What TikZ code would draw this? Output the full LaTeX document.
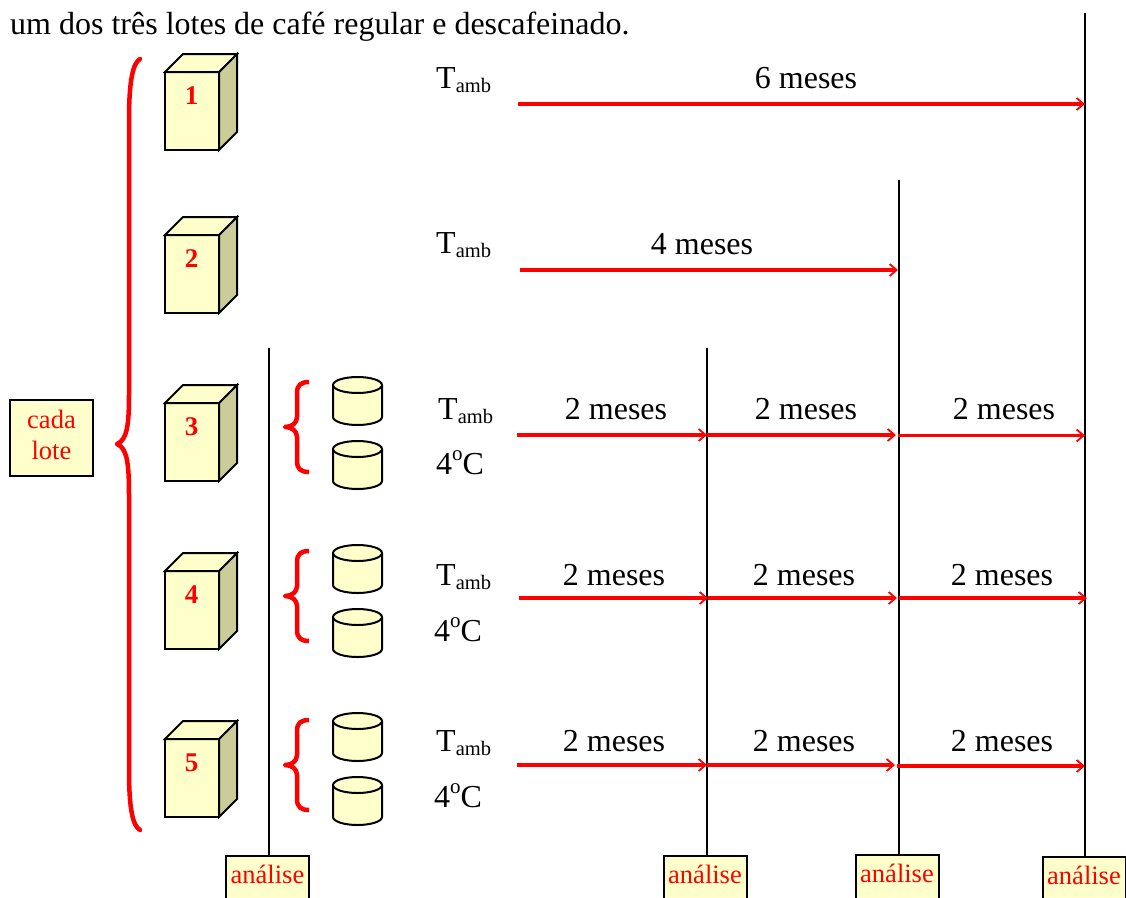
\documentclass[tikz,border=0pt]{standalone}
\usepackage{fontspec}
\setmainfont{Liberation Serif}
\usetikzlibrary{arrows.meta}
\definecolor{pale}{HTML}{FFFFCC}
\definecolor{sideface}{HTML}{CCCC99}
\definecolor{redd}{HTML}{FF0000}
\newcommand{\fs}[1]{\fontsize{#1}{#1}\selectfont}
\tikzset{
 x=1pt,y=-1pt,
 boxline/.style={draw=black,line width=2pt,line join=miter},
 front/.style={boxline,fill=pale,minimum width=54pt,minimum height=78pt,inner sep=0pt,outer sep=0pt,anchor=north west},
 cubenum/.style={text=redd,font=\fs{27}\bfseries,inner sep=0pt},
 brace/.style={draw=redd,line join=round},
 bigbrace/.style={brace,line width=4.5pt,line cap=round},
 smallbrace/.style={brace,line width=4.5pt},
 vline/.style={draw=black,line width=2pt},
 tarrow/.style={draw=redd,line width=3.2pt,-{Straight Barb[length=7pt,width=12pt,line width=1.8pt]}},
 lab/.style={font=\fs{32},inner sep=0pt,anchor=base},
 tlab/.style={font=\fs{32},inner sep=0pt,anchor=base west},
 anabox/.style={boxline,fill=pale,text=redd,font=\fs{26.5},anchor=north,minimum width=83pt,inner xsep=0pt,inner ysep=0pt,outer sep=0pt,text height=27pt,text depth=30pt},
}
\newcommand{\cube}[3]{% name, top of front, number
 \node[front] (#1) at (165,#2) {};
 \path[boxline,fill=sideface] (#1.north east) -- ++(18,-18) -- ++(0,78) -- (#1.south east) -- cycle;
 \path[boxline,fill=pale] (#1.north west) -- ++(18,-18) -- ++(54,0) -- (#1.north east) -- cycle;
 \node[cubenum] at (191.5,#2+24) {#3};
}
\newcommand{\cyl}[2]{% name, top y
 \coordinate (#1) at (333,#2);
 \path[boxline,fill=pale] (333,#2+8) -- (333,#2+40) arc[start angle=180,end angle=0,x radius=24.5,y radius=8] -- (382,#2+8);
 \path[boxline,fill=pale] (357.5,#2+8) ellipse[x radius=24.5,y radius=8];
}
\newcommand{\sbrace}[2]{% name, centre y
 \coordinate (#1) at (285,#2);
 \path[smallbrace] (309,#2-45) .. controls (301,#2-45) and (297,#2-42) .. (297,#2-34) -- (297,#2-10) .. controls (297,#2-4) and (292,#2) .. (285,#2) .. controls (292,#2) and (297,#2+4) .. (297,#2+10) -- (297,#2+34) .. controls (297,#2+42) and (301,#2+45) .. (309,#2+45);
}
\newcommand{\tamb}[2]{\node[tlab] at (#1,#2) {T\raisebox{-4pt}{\fs{20.5}amb}};}
\newcommand{\fourc}[2]{\node[tlab] at (#1,#2) {4\raisebox{13.5pt}{\fs{21}o}C};}
\newcommand{\tarr}[4]{% name, x1, x2, y
 \coordinate (#1a) at (#2,#4); \coordinate (#1b) at (#3,#4);
 \draw[tarrow] (#1a) -- (#1b);
}
\begin{document}
\begin{tikzpicture}
\useasboundingbox (0,0) rectangle (1126,897);
\clip (0,0) rectangle (1126,897);
\node[font=\fs{32},inner sep=0pt,anchor=base west] (intro) at (10,34) {um dos três lotes de café regular e descafeinado.};

% analysis boxes
\node[anabox] (an1) at (267.5,856) {análise};
\node[anabox] (an2) at (705,856) {análise};
\node[anabox] (an3) at (897,855) {análise};
\node[anabox] (an4) at (1084,857) {análise};
% vertical lines
\coordinate (v1) at (269,348);
\coordinate (v2) at (707,348);
\coordinate (v3) at (899,180);
\coordinate (v4) at (1085,13);
\draw[vline] (v1) -- (269,856);
\draw[vline] (v2) -- (707,856);
\draw[vline] (v3) -- (899,855);
\draw[vline] (v4) -- (1085,857);

% lot box
\node[boxline,fill=pale,text=redd,minimum width=83pt,minimum height=76pt,inner sep=0pt,outer sep=0pt,align=center,font=\fs{26.5}] (lote) at (51.5,438) {\raisebox{6pt}{cada}\\[5pt]\raisebox{6pt}{lote}};
% big brace
\coordinate (bb) at (117,444);
\path[bigbrace] (140,59) .. controls (133,63) and (129,80) .. (129,120) -- (129,395) .. controls (129,425) and (127,440) .. (bb) .. controls (127,448) and (129,463) .. (129,495) -- (129,770) .. controls (129,810) and (133,826) .. (140,830);

\cube{c1}{72}{1}
\cube{c2}{235}{2}
\cube{c3}{403}{3}
\cube{c4}{571}{4}
\cube{c5}{739}{5}

\sbrace{s3}{427}\sbrace{s4}{596}\sbrace{s5}{765}
\cyl{cy3a}{377}\cyl{cy3b}{441}
\cyl{cy4a}{545}\cyl{cy4b}{609}
\cyl{cy5a}{713}\cyl{cy5b}{777}

\tamb{436}{88}\tamb{436}{253}\tamb{438}{419}\tamb{436}{585}\tamb{436}{751}
\fourc{436}{474}\fourc{434}{641}\fourc{434}{807}

\tarr{r1}{518}{1085}{104}
\tarr{r2}{520}{898}{270}
\tarr{r3a}{517}{707}{435}\tarr{r3b}{707}{896}{435}\tarr{r3c}{898}{1085}{435.5}
\tarr{r4a}{519}{708}{598}\tarr{r4b}{708}{897}{598}\tarr{r4c}{899}{1087}{598}
\tarr{r5a}{517}{707}{765}\tarr{r5b}{707}{895}{765}\tarr{r5c}{897}{1085}{766}

\node[lab] at (806,88) {6 meses};
\node[lab] at (702,254) {4 meses};
\node[lab] at (616,419) {2 meses};
\node[lab] at (806,419) {2 meses};
\node[lab] at (1004,419) {2 meses};
\node[lab] at (614,585) {2 meses};
\node[lab] at (804,585) {2 meses};
\node[lab] at (1002,585) {2 meses};
\node[lab] at (614,751) {2 meses};
\node[lab] at (804,751) {2 meses};
\node[lab] at (1002,751) {2 meses};
\end{tikzpicture}
\end{document}
